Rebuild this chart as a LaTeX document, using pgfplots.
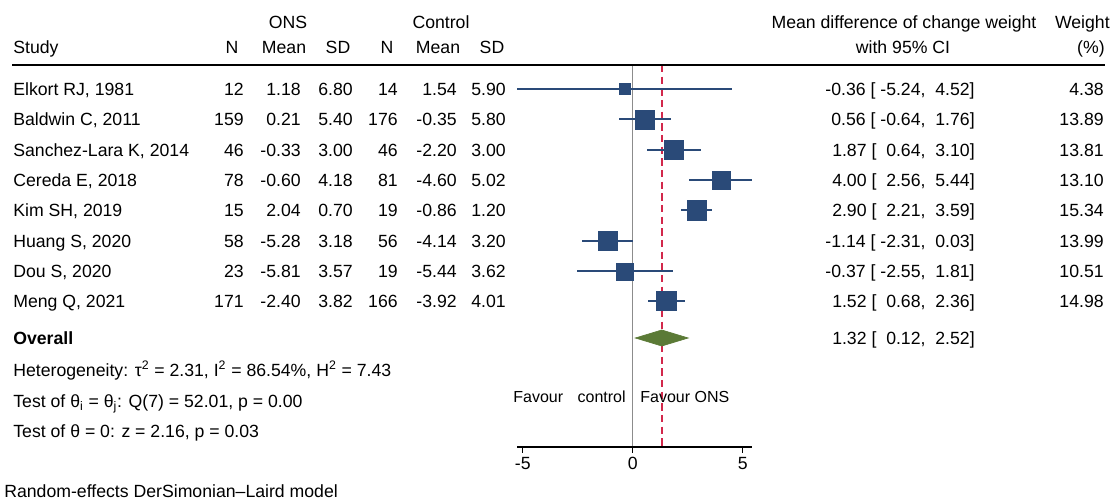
\documentclass[border=0pt]{standalone}
\usepackage{fontspec}
\setmainfont{Liberation Sans}
\usepackage{pgfplots}
\pgfplotsset{compat=1.18}
\usepackage{pgfplotstable}
\definecolor{navy}{RGB}{42,74,120}
\definecolor{dgreen}{RGB}{91,122,54}
\definecolor{redl}{RGB}{210,40,75}
\definecolor{gline}{RGB}{140,140,140}

% y = row position (pixels from top, negative), md = mean difference, lo/hi = 95% CI, hs = half side of square (pt)
\pgfplotstableread{
y      md     lo     hi    hs
-89    -0.36  -5.24  4.52  3.3
-119.5  0.56  -0.64  1.76  5.7
-150    1.87   0.64  3.10  5.55
-180    4.00   2.56  5.44  5.4
-210.5  2.90   2.21  3.59  5.85
-241   -1.14  -2.31  0.03  5.7
-271.5 -0.37  -2.55  1.81  5.0
-301    1.52   0.68  2.36  5.8
}\studies

\begin{document}
\begin{tikzpicture}[font=\fontsize{10.6}{12}\selectfont]
\begin{axis}[scale only axis, width=669pt, height=301.2pt,
  xmin=-28.76, xmax=21.92, ymin=-502, ymax=0, hide axis, clip=false]
\coordinate (TL) at (rel axis cs:0,1);
% reference lines
\addplot[gline, line width=0.8pt] coordinates {(0,-65) (0,-447)};
\addplot[draw=redl, line width=0.9pt, dash pattern=on 4.5pt off 2.5pt] coordinates {(1.32,-65) (1.32,-447)};
% confidence intervals
\addplot[only marks, mark=none, error bars/.cd, x dir=both, x explicit, error mark=none,
  error bar style={navy, line width=1.2pt}]
  table[x=md, y=y, x error plus expr=\thisrow{hi}-\thisrow{md}, x error minus expr=\thisrow{md}-\thisrow{lo}] {\studies};
% squares
\addplot[scatter, only marks, mark=square*,
  scatter/use mapped color={draw=navy, fill=navy},
  visualization depends on={\thisrow{hs} \as \hs},
  scatter/@pre marker code/.append style={/tikz/mark size=\hs pt},
  mark options={line width=0.3pt}]
  table[x=md, y=y] {\studies};
% overall diamond
\addplot[fill=dgreen, draw=dgreen] coordinates {(0.12,-338) (1.32,-330) (2.52,-338) (1.32,-346)} --cycle;
% x axis
\addplot[black, line width=0.8pt] coordinates {(-5.24,-447) (5.44,-447)};
\pgfplotsinvokeforeach{-5,0,5}{
  \draw[line width=0.8pt] (axis cs:#1,-447) -- (axis cs:#1,-453);
  \node[anchor=base, inner sep=0pt] at (axis cs:#1,-469.5) {#1};
}
\end{axis}

\begin{scope}[shift={(TL)}, x=0.6pt, y=-0.6pt, every node/.style={inner sep=0pt}]
\path[use as bounding box] (0,0) rectangle (1115,502);
\tikzset{L/.style={anchor=base west}, R/.style={anchor=base east}, C/.style={anchor=base}}
% headers
\node[C] at (288,28.3) {ONS};
\node[C] at (441,28.3) {Control};
\node[C] at (904,28.3) {Mean difference of change weight};
\node[R] at (1110,28.3) {Weight};
\node[L] at (13,53.3) {Study};
\node[C] at (232,53.3) {N};
\node[C] at (284,53.3) {Mean};
\node[C] at (338,53.3) {SD};
\node[C] at (387,53.3) {N};
\node[C] at (438,53.3) {Mean};
\node[C] at (492,53.3) {SD};
\node[C] at (903,53.3) {with 95\% CI};
\node[R] at (1105,53.3) {(\%)};
\draw[line width=0.9pt] (12,65) -- (1105,65);
% study rows
\foreach \yy/\nm/\na/\ma/\sa/\nb/\mb/\sb/\ci/\w in {
  95.3/{Elkort RJ, 1981}/12/1.18/6.80/14/1.54/5.90/{-0.36 [ -5.24,\ \ 4.52]}/4.38,
  125.8/{Baldwin C, 2011}/159/0.21/5.40/176/-0.35/5.80/{0.56 [ -0.64,\ \ 1.76]}/13.89,
  156.3/{Sanchez-Lara K, 2014}/46/-0.33/3.00/46/-2.20/3.00/{1.87 [\ \ 0.64,\ \ 3.10]}/13.81,
  186.3/{Cereda E, 2018}/78/-0.60/4.18/81/-4.60/5.02/{4.00 [\ \ 2.56,\ \ 5.44]}/13.10,
  216.8/{Kim SH, 2019}/15/2.04/0.70/19/-0.86/1.20/{2.90 [\ \ 2.21,\ \ 3.59]}/15.34,
  247.3/{Huang S, 2020}/58/-5.28/3.18/56/-4.14/3.20/{-1.14 [ -2.31,\ \ 0.03]}/13.99,
  277.8/{Dou S, 2020}/23/-5.81/3.57/19/-5.44/3.62/{-0.37 [ -2.55,\ \ 1.81]}/10.51,
  307.3/{Meng Q, 2021}/171/-2.40/3.82/166/-3.92/4.01/{1.52 [\ \ 0.68,\ \ 2.36]}/14.98}{
  \node[L] at (13,\yy) {\nm};
  \node[R] at (244,\yy) {\na};
  \node[R] at (301,\yy) {\ma};
  \node[R] at (353,\yy) {\sa};
  \node[R] at (398,\yy) {\nb};
  \node[R] at (457,\yy) {\mb};
  \node[R] at (506,\yy) {\sb};
  \node[R] at (975,\yy) {\ci};
  \node[R] at (1104,\yy) {\w};
}
% overall and notes
\node[L] at (13,344.3) {\bfseries Overall};
\node[R] at (975,344.3) {1.32 [\ \ 0.12,\ \ 2.52]};
\node[L] at (13,376.3) {Heterogeneity: τ\textsuperscript{2} = 2.31, I\textsuperscript{2} = 86.54\%, H\textsuperscript{2} = 7.43};
\node[L] at (13,407.3) {Test of θ\textsubscript{i} = θ\textsubscript{j}: Q(7) = 52.01, p = 0.00};
\node[L] at (13,437.3) {Test of θ = 0: z = 2.16, p = 0.03};
\node[L, font=\fontsize{9.6}{11}\selectfont] at (513,402.5) {Favour};
\node[R, font=\fontsize{9.6}{11}\selectfont] at (626,402.5) {control};
\node[L, font=\fontsize{9.6}{11}\selectfont] at (640,402.5) {Favour ONS};
\node[L] at (4,497.3) {Random-effects DerSimonian--Laird model};
\end{scope}
\end{tikzpicture}
\end{document}
